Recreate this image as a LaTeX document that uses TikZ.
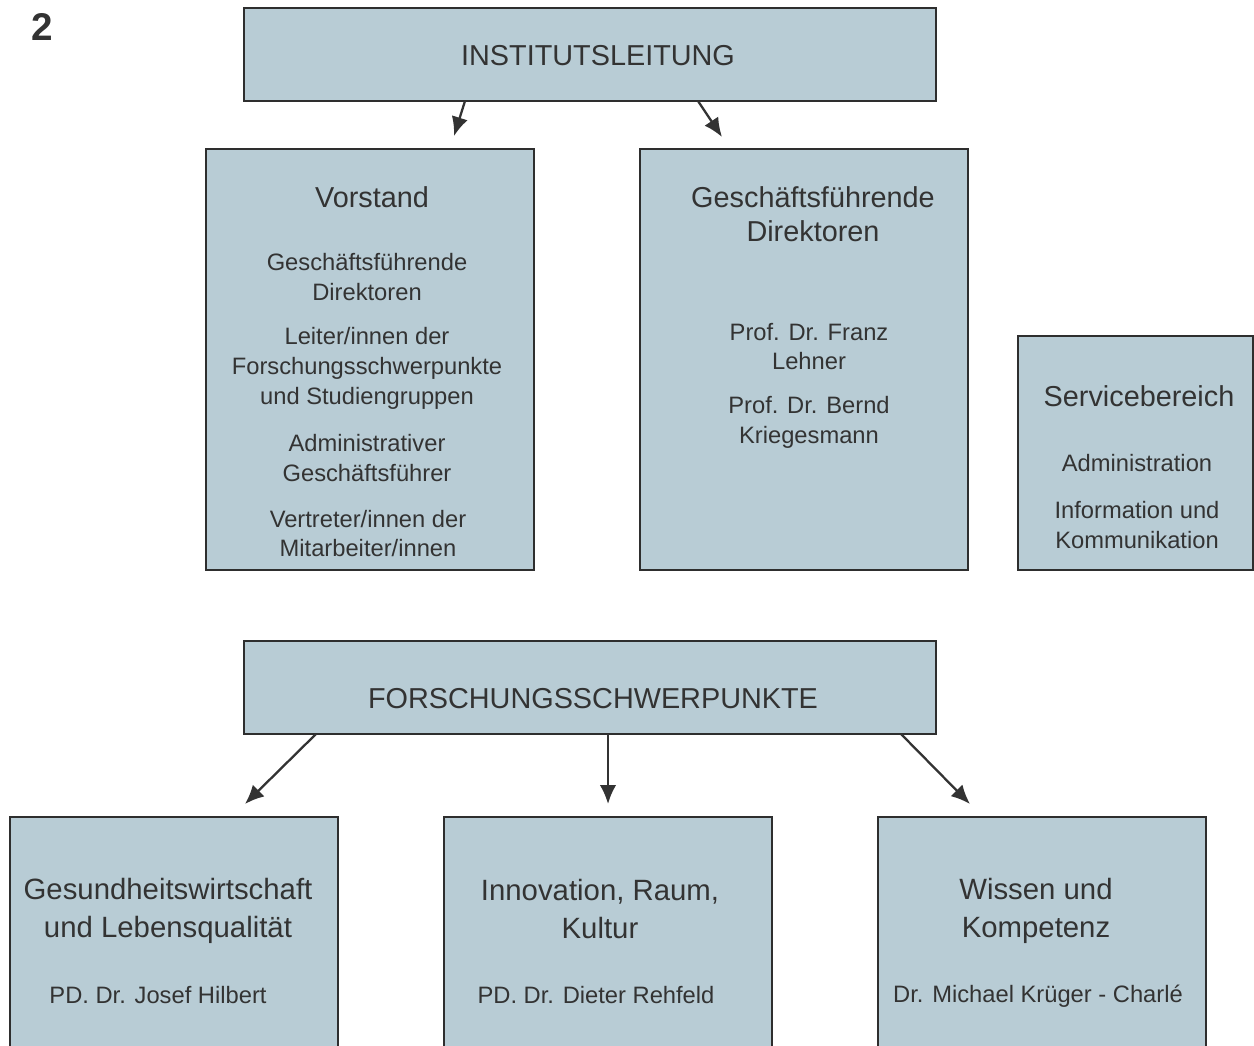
\documentclass[tikz,border=0pt]{standalone}
\usepackage{fontspec}
\setmainfont{Liberation Sans}
\usetikzlibrary{arrows.meta,calc}
\definecolor{boxblue}{HTML}{B8CCD5}
\definecolor{ink}{HTML}{333333}
\begin{document}
\begin{tikzpicture}[x=0.2mm,y=-0.2mm,
    box/.style={draw=ink!90!black,fill=boxblue,line width=0.9pt,inner sep=0pt,outer sep=0pt},
    ttl/.style={text=ink,align=center,font=\fontsize{16.4}{19.3}\selectfont},
    btl/.style={text=ink,align=center,font=\fontsize{16.7}{21.5}\selectfont},
    txt/.style={text=ink,align=center,font=\fontsize{13.5}{17}\selectfont},
    arr/.style={draw=ink,line width=1.3pt,-{Latex[length=3.8mm,width=3.3mm]}}]
    \useasboundingbox (0,0) rectangle (1254,1046);
    % Nummer
    \node[text=ink,font=\fontsize{22}{26}\bfseries\selectfont] (num) at (42,27) {2};
    % Kaesten
    \node[box,minimum width=138.4mm,minimum height=18.6mm] (inst) at (590,54.5) {};
    \node[box,minimum width=65.6mm,minimum height=84.2mm] (vor) at (370,359.5) {};
    \node[box,minimum width=65.6mm,minimum height=84.2mm] (gfd) at (804,359.5) {};
    \node[box,minimum width=47mm,minimum height=46.8mm] (serv) at (1135.5,453) {};
    \node[box,minimum width=138.4mm,minimum height=18.6mm] (fsp) at (590,687.5) {};
    \node[box,minimum width=65.6mm,minimum height=52.6mm] (ges) at (174,948.5) {};
    \node[box,minimum width=65.6mm,minimum height=52.6mm] (inn) at (608,948.5) {};
    \node[box,minimum width=65.6mm,minimum height=52.6mm] (wis) at (1042,948.5) {};
    % Texte
    \node[ttl] (insttxt) at (598,56) {INSTITUTSLEITUNG};
    \node[ttl] (vortxt) at (372,197) {Vorstand};
    \node[txt] (vor1) at (367,277) {Geschäftsführende\\Direktoren};
    \node[txt] (vor2) at (367,368) {Leiter/innen der\\Forschungsschwerpunkte\\und Studiengruppen};
    \node[txt] (vor3) at (367,458) {Administrativer\\Geschäftsführer};
    \node[txt] (vor4) at (368,533.5) {Vertreter/innen der\\Mitarbeiter/innen};
    \node[ttl] (gfdtxt) at (813,214) {Geschäftsführende\\Direktoren};
    \node[txt] (gfd1) at (809,346.5) {Prof. Dr. Franz\\Lehner};
    \node[txt] (gfd2) at (809,422) {Prof. Dr. Bernd\\Kriegesmann};
    \node[ttl] (servtxt) at (1139,396) {Servicebereich};
    \node[txt] (serv1) at (1137,463) {Administration};
    \node[txt] (serv2) at (1137,525) {Information und\\Kommunikation};
    \node[ttl] (fsptxt) at (593,699) {FORSCHUNGSSCHWERPUNKTE};
    \node[btl] (gestxt) at (168,911) {Gesundheitswirtschaft\\und Lebensqualität};
    \node[txt] (ges1) at (158,995) {PD. Dr. Josef Hilbert};
    \node[btl] (inntxt) at (600,909) {Innovation, Raum,\\Kultur};
    \node[txt] (inn1) at (596,995) {PD. Dr. Dieter Rehfeld};
    \node[btl] (wistxt) at (1036,911) {Wissen und\\Kompetenz};
    \node[txt] (wis1) at (1038,996) {Dr. Michael Krüger - Charlé};
    % Pfeile
    \coordinate (t1) at ($(vor.north)+(84,-13)$);
    \coordinate (t2) at ($(gfd.north)+(-82,-12)$);
    \coordinate (t3) at ($(ges.north)+(71,-13)$);
    \coordinate (t4) at ($(inn.north)+(0,-13)$);
    \coordinate (t5) at ($(wis.north)+(-72,-13)$);
    \draw[arr] ($(inst.south)+(-125,0)$) -- (t1);
    \draw[arr] ($(inst.south)+(108,0)$) -- (t2);
    \draw[arr] ($(fsp.south)+(-274,0)$) -- (t3);
    \draw[arr] ($(fsp.south)+(18,0)$) -- (t4);
    \draw[arr] ($(fsp.south)+(311,0)$) -- (t5);
\end{tikzpicture}
\end{document}
